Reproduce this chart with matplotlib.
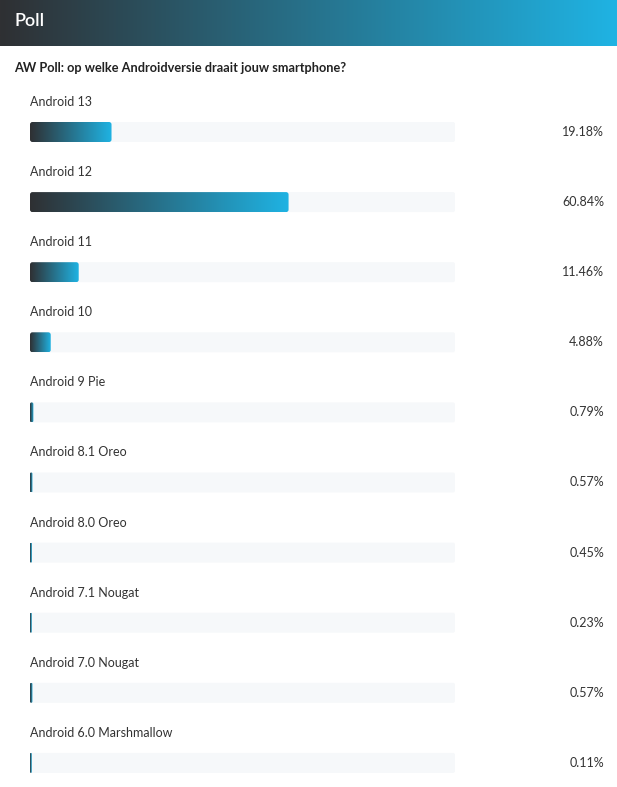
import matplotlib.pyplot as plt
import numpy as np
from matplotlib.patches import FancyBboxPatch
from matplotlib.colors import LinearSegmentedColormap

# data
labels = ['Android 13', 'Android 12', 'Android 11', 'Android 10', 'Android 9 Pie',
          'Android 8.1 Oreo', 'Android 8.0 Oreo', 'Android 7.1 Nougat',
          'Android 7.0 Nougat', 'Android 6.0 Marshmallow']
percent = [19.18, 60.84, 11.46, 4.88, 0.79, 0.57, 0.45, 0.23, 0.57, 0.11]

title = 'Poll'
question = 'AW Poll: op welke Androidversie draait jouw smartphone?'

plt.rcParams['font.family'] = ['Lato', 'DejaVu Sans']

W, H = 617, 787
fig = plt.figure(figsize=(W / 100, H / 100), dpi=100)
ax = fig.add_axes([0, 0, 1, 1])
ax.set_xlim(0, W)
ax.set_ylim(H, 0)
ax.axis('off')

grad = LinearSegmentedColormap.from_list('aw', ['#2f3033', '#1fb3e3'])
ramp = np.linspace(0, 1, 256).reshape(1, -1)

# header band
ax.imshow(ramp, cmap=grad, extent=[0, W, 46, 0], aspect='auto', zorder=1)
ax.text(14, 21, title, color='white', fontsize=13, fontweight='semibold',
        va='center', ha='left', zorder=3)
ax.text(14, 68, question, color='#222222', fontsize=9.2, fontweight='bold',
        va='center', ha='left')

# bars: light track + gradient fill clipped to a rounded box
x0, x1 = 30, 455
track_w = x1 - x0
bar_h = 20
for i, (lab, p) in enumerate(zip(labels, percent)):
    ytxt = 102 + 70.1 * i
    ybar = 122 + 70.1 * i
    ax.text(x0, ytxt, lab, color='#333333', fontsize=9, va='center', ha='left')
    track = FancyBboxPatch((x0, ybar), track_w, bar_h,
                           boxstyle='round,pad=0,rounding_size=2',
                           fc='#f6f8fa', ec='none', zorder=1)
    ax.add_patch(track)
    w = max(p / 100 * track_w, 1.8)
    r = min(2.5, w / 2)
    clip = FancyBboxPatch((x0, ybar), w, bar_h,
                          boxstyle='round,pad=0,rounding_size=%.2f' % r,
                          fc='none', ec='none', zorder=2)
    ax.add_patch(clip)
    im = ax.imshow(ramp, cmap=grad, extent=[x0, x0 + w, ybar + bar_h, ybar],
                   aspect='auto', zorder=2)
    im.set_clip_path(clip)
    ax.text(604, ybar + bar_h / 2, '%.2f%%' % p, color='#333333', fontsize=9,
            va='center', ha='right')

fig.savefig('out.png', dpi=100)
